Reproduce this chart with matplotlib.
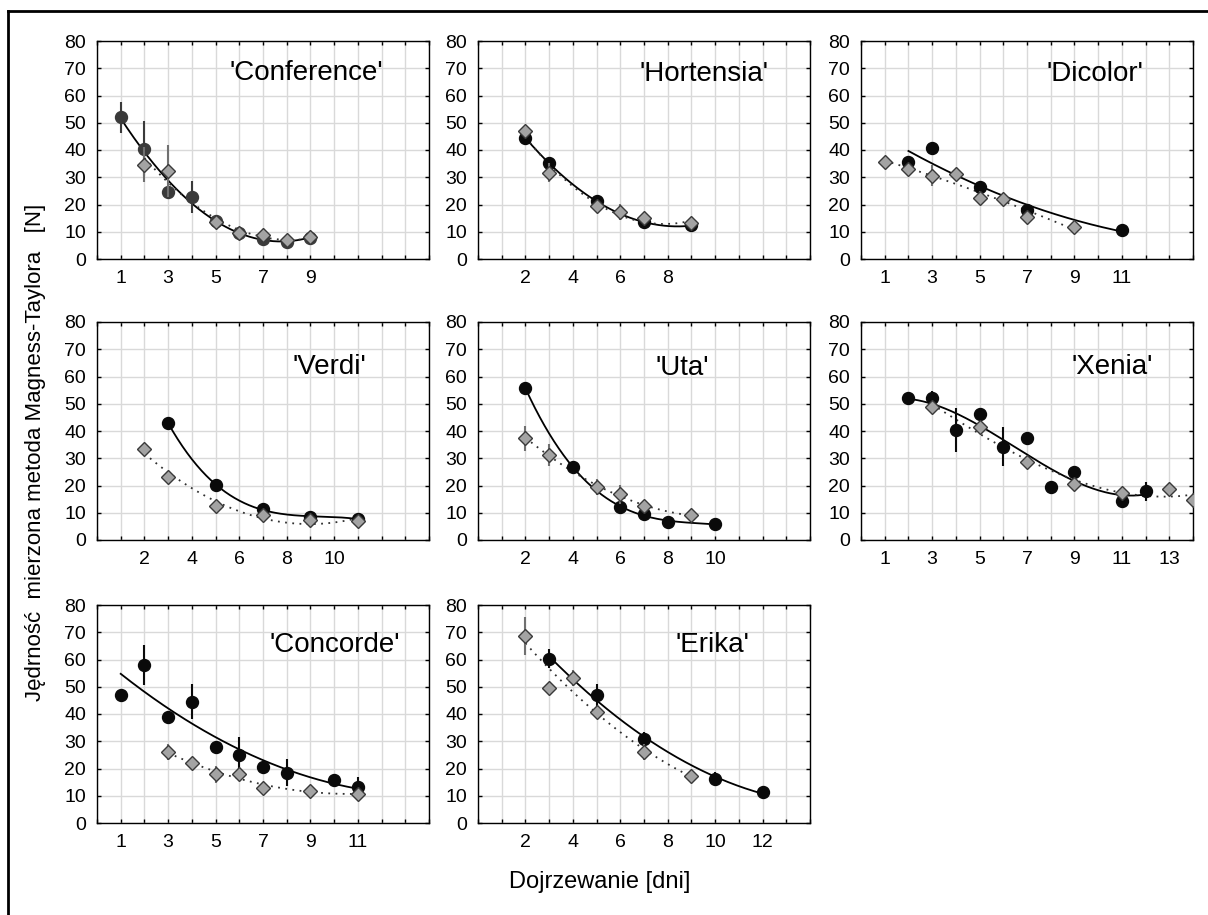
import numpy as np
import matplotlib
matplotlib.use("Agg")
import matplotlib.pyplot as plt
from matplotlib.lines import Line2D

plt.rcParams['font.family'] = ['Liberation Sans', 'DejaVu Sans']

# cultivar names
names = ["'Conference'", "'Hortensia'", "'Dicolor'", "'Verdi'", "'Uta'",
         "'Xenia'", "'Concorde'", "'Erika'"]

# series A (black circles): days, firmness [N], error
conf_xa = [1, 2, 3, 4, 5, 6, 7, 8, 9]
conf_ya = [52.0, 40.5, 24.7, 22.8, 14.0, 9.5, 7.5, 6.2, 7.8]
conf_ea = [5.6, 10.0, 0, 5.8, 0, 0, 0, 0, 0]
hort_xa = [2, 3, 5, 7, 9]
hort_ya = [44.3, 35.3, 21.2, 13.4, 12.3]
hort_ea = [1.5, 2.0, 1.0, 1.0, 1.0]
dico_xa = [2, 3, 5, 7, 11]
dico_ya = [35.6, 40.8, 26.6, 17.8, 10.7]
dico_ea = [0, 0, 0, 0, 0]
verd_xa = [3, 5, 7, 9, 11]
verd_ya = [42.9, 20.3, 11.2, 8.6, 7.7]
verd_ea = [0, 0, 0, 0, 0]
uta_xa = [2, 4, 6, 7, 8, 10]
uta_ya = [55.7, 26.7, 12.2, 9.5, 6.7, 5.8]
uta_ea = [0, 2.0, 0, 0, 0, 0]
xen_xa = [2, 3, 4, 5, 6, 7, 8, 9, 11, 12]
xen_ya = [52.0, 52.1, 40.4, 46.2, 34.3, 37.6, 19.6, 24.9, 14.3, 17.9]
xen_ea = [0, 2.5, 8.0, 0, 7.0, 0, 0, 0, 0, 3.5]
conc_xa = [1, 2, 3, 4, 5, 6, 7, 8, 10, 11]
conc_ya = [47.1, 58.0, 39.0, 44.5, 27.8, 25.0, 20.7, 18.4, 15.9, 13.2]
conc_ea = [1.5, 7.5, 0, 6.5, 0, 6.5, 0, 5.0, 0, 3.5]
erik_xa = [3, 5, 7, 10, 12]
erik_ya = [60.3, 46.9, 30.9, 16.2, 11.3]
erik_ea = [3.5, 4.0, 2.5, 2.5, 0]

# series B (grey diamonds)
conf_xb = [2, 3, 5, 6, 7, 8, 9]
conf_yb = [34.6, 32.2, 13.6, 9.4, 8.8, 6.8, 7.9]
conf_eb = [6.4, 9.5, 2.0, 0, 1.5, 0, 2.5]
hort_xb = [2, 3, 5, 6, 7, 9]
hort_yb = [46.9, 31.7, 19.5, 17.3, 14.9, 13.2]
hort_eb = [0, 3.5, 0, 3.0, 1.0, 2.0]
dico_xb = [1, 2, 3, 4, 5, 6, 7, 9]
dico_yb = [35.6, 32.9, 30.6, 31.1, 22.5, 21.9, 15.3, 11.9]
dico_eb = [0, 1.5, 3.8, 0, 2.5, 0, 0, 0]
verd_xb = [2, 3, 5, 7, 9, 11]
verd_yb = [33.4, 23.3, 12.5, 9.0, 7.4, 7.0]
verd_eb = [0, 0, 0, 0, 0, 0]
uta_xb = [2, 3, 5, 6, 7, 9]
uta_yb = [37.4, 31.2, 19.5, 16.8, 12.5, 9.0]
uta_eb = [4.6, 4.0, 3.0, 3.5, 2.0, 0]
xen_xb = [3, 5, 7, 9, 11, 13, 14]
xen_yb = [48.9, 41.3, 28.5, 20.7, 17.3, 18.8, 14.8]
xen_eb = [0, 0, 0, 0, 0, 0, 0]
conc_xb = [3, 4, 5, 6, 7, 9, 11]
conc_yb = [26.0, 21.9, 17.8, 18.0, 13.0, 11.9, 10.5]
conc_eb = [3.0, 0, 3.0, 0, 0, 0, 0]
erik_xb = [2, 3, 4, 5, 7, 9]
erik_yb = [68.6, 49.6, 53.1, 40.6, 26.0, 17.2]
erik_eb = [7.0, 0, 3.0, 2.0, 3.0, 0]

series_a = [(conf_xa, conf_ya, conf_ea), (hort_xa, hort_ya, hort_ea),
            (dico_xa, dico_ya, dico_ea), (verd_xa, verd_ya, verd_ea),
            (uta_xa, uta_ya, uta_ea), (xen_xa, xen_ya, xen_ea),
            (conc_xa, conc_ya, conc_ea), (erik_xa, erik_ya, erik_ea)]
series_b = [(conf_xb, conf_yb, conf_eb), (hort_xb, hort_yb, hort_eb),
            (dico_xb, dico_yb, dico_eb), (verd_xb, verd_yb, verd_eb),
            (uta_xb, uta_yb, uta_eb), (xen_xb, xen_yb, xen_eb),
            (conc_xb, conc_yb, conc_eb), (erik_xb, erik_yb, erik_eb)]

# polynomial order of the fitted curves
deg_a = [2, 2, 2, 3, 3, 3, 2, 2]
deg_b = [2, 2, 2, 2, 2, 3, 2, 2]

# labelled x ticks per panel
xlabels = [[1, 3, 5, 7, 9], [2, 4, 6, 8], [1, 3, 5, 7, 9, 11], [2, 4, 6, 8, 10],
           [2, 4, 6, 8, 10], [1, 3, 5, 7, 9, 11, 13], [1, 3, 5, 7, 9, 11],
           [2, 4, 6, 8, 10, 12]]

W, H = 1208, 915
fig = plt.figure(figsize=(W / 100, H / 100), dpi=100)

col_left = [97, 478, 861]
row_top = [41, 322, 605]
aw, ah = 332, 218
title_pos = [(0.63, 0.855), (0.68, 0.85), (0.705, 0.85), (0.70, 0.795),
             (0.615, 0.79), (0.757, 0.795), (0.716, 0.815), (0.705, 0.815)]
circle_col = ['#3a3a3a'] + ['#0a0a0a'] * 7

for i in range(8):
    r, c = divmod(i, 3)
    ax = fig.add_axes([col_left[c] / W, 1 - (row_top[r] + ah) / H, aw / W, ah / H])
    ax.set_xlim(0, 14)
    ax.set_ylim(0, 80)
    ax.set_xticks(range(0, 15))
    ax.set_xticklabels([str(t) if t in xlabels[i] else '' for t in range(0, 15)])
    ax.set_yticks(range(0, 81, 10))
    ax.grid(True, color='#d9d9d9', linewidth=1.0)
    ax.set_axisbelow(True)
    ax.tick_params(direction='in', length=3, width=1, top=True, right=True,
                   labelsize=14, pad=8, colors='black')
    for sp in ax.spines.values():
        sp.set_linewidth(1.0)
        sp.set_color('black')

    xa, ya, ea = series_a[i]
    xb, yb, eb = series_b[i]

    # fitted curves
    pa = np.polyfit(xa, ya, deg_a[i])
    ta = np.linspace(min(xa), max(xa), 200)
    ax.plot(ta, np.polyval(pa, ta), color='black', linewidth=1.3, zorder=3)
    pb = np.polyfit(xb, yb, deg_b[i])
    tb = np.linspace(min(xb), max(xb), 200)
    ax.plot(tb, np.polyval(pb, tb), color='#303030', linewidth=1.3,
            linestyle=(0, (1, 3)), zorder=3)

    ax.errorbar(xa, ya, yerr=ea, fmt='none', ecolor=circle_col[i],
                elinewidth=1.5, capsize=0, zorder=4)
    ax.plot(xa, ya, 'o', color=circle_col[i], markersize=8.6,
            markeredgecolor=circle_col[i], zorder=5)
    ax.errorbar(xb, yb, yerr=eb, fmt='none', ecolor='#707070',
                elinewidth=1.5, capsize=0, zorder=6)
    ax.plot(xb, yb, 'D', color='#a3a3a3', markersize=7,
            markeredgecolor='#3a3a3a', markeredgewidth=1.0, zorder=7)

    ax.text(title_pos[i][0], title_pos[i][1], names[i], transform=ax.transAxes,
            ha='center', va='center', fontsize=20)

fig.text(600 / W, 1 - 882 / H, 'Dojrzewanie [dni]', ha='center', va='center',
         fontsize=17)
fig.text(36 / W, 1 - 452 / H, 'Jędrność  mierzona metoda Magness-Taylora   [N]',
         ha='center', va='center', rotation=90, fontsize=16)

# outer frame (left and top edges visible)
fig.add_artist(Line2D([8 / W, 8 / W], [0, 1 - 11 / H], color='black', linewidth=2))
fig.add_artist(Line2D([8 / W, 1], [1 - 11 / H, 1 - 11 / H], color='black', linewidth=2))

fig.savefig('out.png', dpi=100)
